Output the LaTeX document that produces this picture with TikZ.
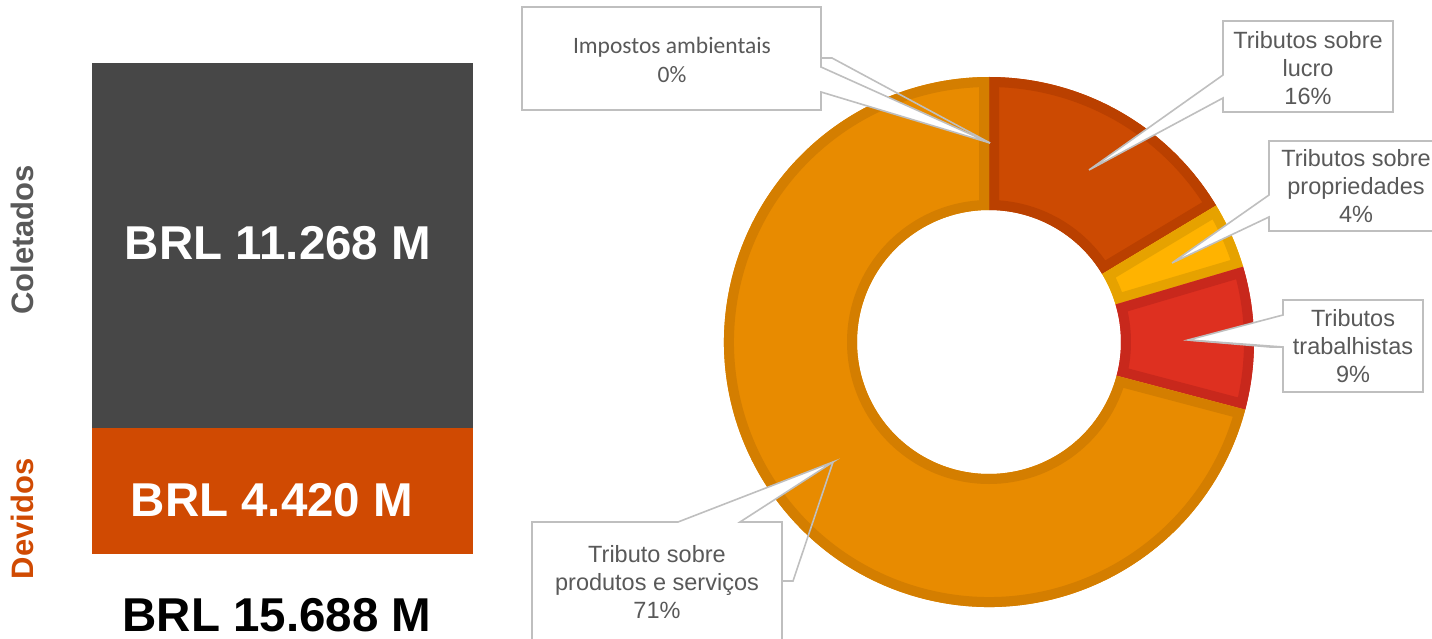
\documentclass[tikz,border=0pt]{standalone}
\usepackage{fontspec}
\setmainfont{Liberation Sans}
\newfontfamily\calfont{Carlito}
\definecolor{darkbar}{HTML}{474747}
\definecolor{orgbar}{HTML}{D04A02}
\definecolor{txtgray}{HTML}{595959}
\definecolor{callgray}{HTML}{BFBFBF}
\definecolor{prodfill}{HTML}{E88B00}
\definecolor{prodline}{HTML}{D47E00}
\definecolor{lucfill}{HTML}{CC4A02}
\definecolor{lucline}{HTML}{BA4000}
\definecolor{propfill}{HTML}{FFB300}
\definecolor{propline}{HTML}{E6A200}
\definecolor{trabfill}{HTML}{DE3020}
\definecolor{trabline}{HTML}{C8281C}
\newcommand{\donutseg}[4]{%
  \fill[#3] (#1:265) arc[start angle=#1, end angle=#2, radius=265] -- (#2:132) arc[start angle=#2, end angle=#1, radius=132] -- cycle;
  \begin{scope}
    \clip (#1:265) arc[start angle=#1, end angle=#2, radius=265] -- (#2:132) arc[start angle=#2, end angle=#1, radius=132] -- cycle;
    \draw[#4, line width=20pt, line join=miter] (#1:265) arc[start angle=#1, end angle=#2, radius=265] -- (#2:132) arc[start angle=#2, end angle=#1, radius=132] -- cycle;
  \end{scope}}
\begin{document}
\begin{tikzpicture}[x=1pt,y=-1pt,
  bigtxt/.style={font=\fontsize{47.5}{50}\selectfont\bfseries, inner sep=0pt},
  sidetxt/.style={font=\fontsize{31}{34}\selectfont\bfseries, rotate=90, inner sep=0pt},
  lbl/.style={font=\fontsize{23.5}{28}\selectfont, text=txtgray, align=center, inner sep=0pt},
  callout/.style={draw=callgray, line width=1.6pt, fill=white, line join=miter}]
\useasboundingbox (0,0) rectangle (1432,639);
% left bars
\fill[darkbar] (92,63) rectangle (473,428);
\fill[orgbar] (92,428) rectangle (473,554);
\node[bigtxt, text=white] (coltxt) at (278,243) {BRL 11.268 M};
\node[bigtxt, text=white] (devtxt) at (272,500) {BRL 4.420 M};
\node[bigtxt, text=black] (tottxt) at (277,615) {BRL 15.688 M};
\node[sidetxt, text=txtgray] (collbl) at (22,240) {Coletados};
\node[sidetxt, text=orgbar] (devlbl) at (22,519) {Devidos};
% donut
\begin{scope}[shift={(989,342)}, y=1pt]
  \donutseg{90}{31}{lucfill}{lucline}
  \donutseg{31}{16.5}{propfill}{propline}
  \donutseg{16.5}{-14.8}{trabfill}{trabline}
  \donutseg{-14.8}{-270}{prodfill}{prodline}
\end{scope}
% callout tips
\coordinate (tipamb) at (990,143);
\coordinate (tipluc) at (1089,170);
\coordinate (tipprop) at (1172,263);
\coordinate (tiptrab) at (1188,340);
\coordinate (tipprod) at (833,462);
% callouts
\draw[callout] (522,7) -- (821,7) -- (821,67) -- (tipamb) -- (821,92) -- (821,110) -- (522,110) -- cycle;
\draw[callgray, line width=1.6pt] (821,58) -- (832,58) -- (tipamb);
\draw[callout] (1223,21) -- (1393,21) -- (1393,112) -- (1223,112) -- (1223,98) -- (tipluc) -- (1223,75) -- cycle;
\draw[callout] (1269,141) -- (1440,141) -- (1440,231) -- (1269,231) -- (1269,217) -- (tipprop) -- (1269,195) -- cycle;
\draw[callout] (1283,300) -- (1423,300) -- (1423,392) -- (1283,392) -- (1283,347) -- (tiptrab) -- (1283,315) -- cycle;
\draw[callgray, line width=1.6pt] (tiptrab) -- (1270,347) -- (1283,347);
\draw[callout] (532,522) -- (678,522) -- (tipprod) -- (740,522) -- (782,522) -- (782,650) -- (532,650) -- cycle;
\draw[callgray, line width=1.6pt] (tipprod) -- (793,581) -- (782,581);
% labels
\node[lbl, font=\calfont\fontsize{23.5}{29}\selectfont] (amb) at (672,60) {Impostos ambientais\\0\%};
\node[lbl] (luc) at (1308,68) {Tributos sobre\\lucro\\16\%};
\node[lbl] (prop) at (1356,186) {Tributos sobre\\propriedades\\4\%};
\node[lbl] (trab) at (1353,346) {Tributos\\trabalhistas\\9\%};
\node[lbl] (prod) at (657,582) {Tributo sobre\\produtos e serviços\\71\%};
\end{tikzpicture}
\end{document}
